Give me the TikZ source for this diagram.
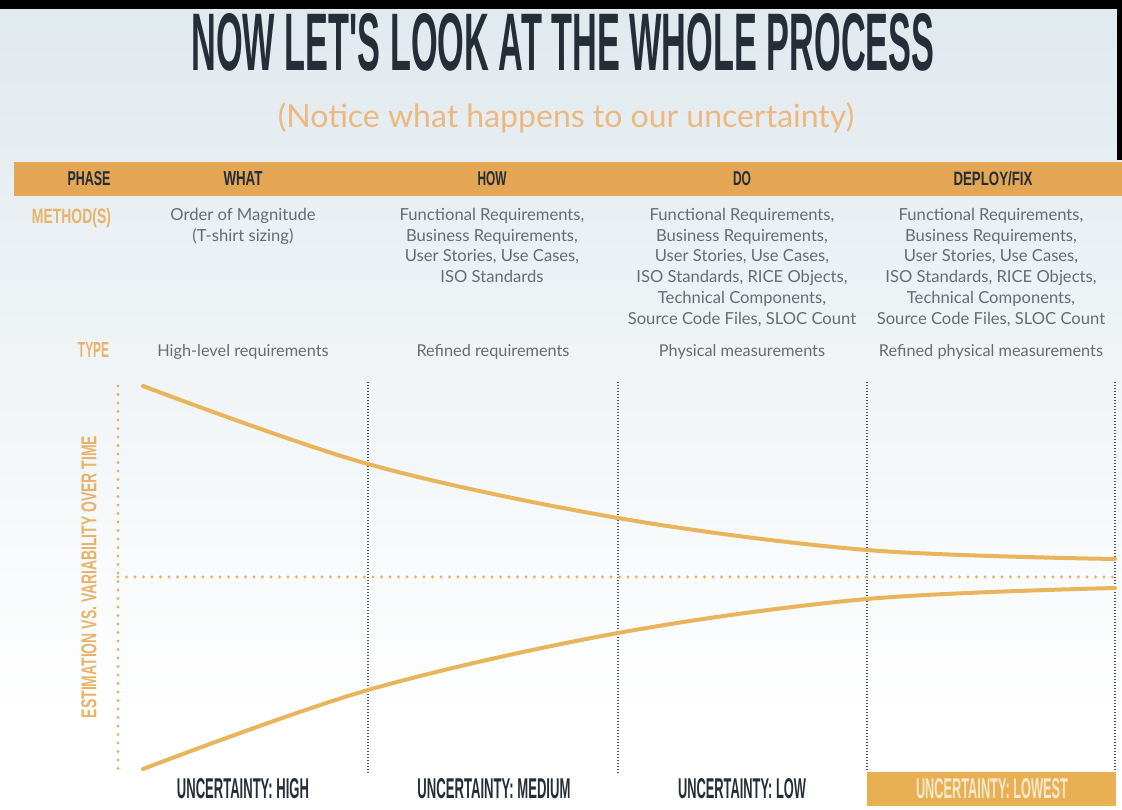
\documentclass[tikz,border=0pt]{standalone}
\usepackage{fontspec}
\setmainfont{Lato}
\newfontfamily\headfont{Liberation Sans}[BoldFont={* Bold}]
\usepackage{graphicx}

\definecolor{bgtop}{RGB}{224,233,238}
\definecolor{barorange}{RGB}{227,166,84}
\definecolor{curveorange}{RGB}{233,181,92}
\definecolor{labelorange}{RGB}{232,178,104}
\definecolor{subtitleorange}{RGB}{236,184,128}
\definecolor{navy}{RGB}{37,45,56}
\definecolor{bodygray}{RGB}{104,108,112}
\definecolor{dotgray}{RGB}{80,85,92}
\definecolor{boxorange}{RGB}{232,176,83}
\definecolor{boxtext}{RGB}{247,233,206}

% condensed bold caption: width, cap height, text
\newcommand{\cnd}[3]{\resizebox{#1pt}{#2pt}{\headfont\bfseries #3}}

\begin{document}
\begin{tikzpicture}[x=1pt,y=-1pt,
  every node/.style={inner sep=0pt,outer sep=0pt},
  bodytext/.style={font=\fontsize{16.6}{20.8}\selectfont,text=bodygray,align=center,anchor=north},
  typetext/.style={font=\fontsize{16.3}{20}\selectfont,text=bodygray,anchor=base},
  headtext/.style={text=navy,anchor=base},
  sidelabel/.style={text=labelorange,anchor=base east},
  bottomlabel/.style={text=navy,anchor=center},
  phaseline/.style={draw=dotgray,line width=1.3pt,dash pattern=on 1pt off 2pt},
  axisdots/.style={draw=labelorange,line width=3.4pt,line cap=round,dash pattern=on 0pt off 8.5pt},
  conecurve/.style={draw=curveorange,line width=4pt,line cap=round}]

  % page and background
  \useasboundingbox (0,0) rectangle (1122,810);
  \fill[white] (0,0) rectangle (1122,810);
  \shade[top color=bgtop,bottom color=white] (0,0) rectangle (1122,720);
  \fill[black] (0,0) rectangle (1122,9);
  \fill[black] (1117,0) rectangle (1122,160);

  % title and subtitle
  \node[headtext] (title) at (563,71) {\cnd{743}{57}{NOW LET'S LOOK AT THE WHOLE PROCESS}};
  \node[anchor=base,text=subtitleorange,font=\fontsize{32}{34}\selectfont] (subtitle) at (566,128) {(Notice what happens to our uncertainty)};

  % phase bar
  \fill[barorange] (14,162) rectangle (1122,196);
  \node[headtext] (hphase)  at (89,186)  {\cnd{43}{14}{PHASE}};
  \node[headtext] (hwhat)   at (243,186) {\cnd{39}{14}{WHAT}};
  \node[headtext] (hhow)    at (492,186) {\cnd{29}{14}{HOW}};
  \node[headtext] (hdo)     at (742,186) {\cnd{18}{14}{DO}};
  \node[headtext] (hdeploy) at (993,186) {\cnd{79}{14}{DEPLOY/FIX}};

  % methods row
  \node[sidelabel] (lmethod) at (111,224) {\cnd{79}{15}{METHOD(S)}};
  \node[bodytext] (m1) at (243,208) {Order of Magnitude\\(T-shirt sizing)};
  \node[bodytext] (m2) at (492,208) {Functional Requirements,\\Business Requirements,\\User Stories, Use Cases,\\ISO Standards};
  \node[bodytext] (m3) at (742,208) {Functional Requirements,\\Business Requirements,\\User Stories, Use Cases,\\ISO Standards, RICE Objects,\\Technical Components,\\Source Code Files, SLOC Count};
  \node[bodytext] (m4) at (991,208) {Functional Requirements,\\Business Requirements,\\User Stories, Use Cases,\\ISO Standards, RICE Objects,\\Technical Components,\\Source Code Files, SLOC Count};

  % type row
  \node[sidelabel] (ltype) at (109,358) {\cnd{31}{15}{TYPE}};
  \node[typetext] (t1) at (243,356) {High-level requirements};
  \node[typetext] (t2) at (493,356) {Refined requirements};
  \node[typetext] (t3) at (742,356) {Physical measurements};
  \node[typetext] (t4) at (991,356) {Refined physical measurements};

  % phase boundaries
  \draw[phaseline] (368,382) -- (368,774);
  \draw[phaseline] (618,382) -- (618,774);
  \draw[phaseline] (867,382) -- (867,772);
  \draw[phaseline] (1115,382) -- (1115,772);

  % axes
  \draw[axisdots] (118,386) -- (118,770);
  \draw[axisdots] (118,577) -- (1118,577);
  \node[text=labelorange,rotate=90] (ylabel) at (89,577) {\cnd{282}{15}{ESTIMATION VS. VARIABILITY OVER TIME}};

  % cone of uncertainty
  \draw[conecurve] plot[smooth,tension=0.55] coordinates {(143,386) (368,464) (618,518) (867,550) (1115,559)};
  \draw[conecurve] plot[smooth,tension=0.55] coordinates {(143,769) (368,690) (618,633) (867,599) (1115,588)};

  % uncertainty levels
  \node[bottomlabel] (uhigh) at (243,789) {\cnd{132}{20}{UNCERTAINTY: HIGH}};
  \node[bottomlabel] (umed)  at (494,789) {\cnd{153}{20}{UNCERTAINTY: MEDIUM}};
  \node[bottomlabel] (ulow)  at (742,789) {\cnd{128}{20}{UNCERTAINTY: LOW}};
  \fill[boxorange] (867,772) rectangle (1116,806);
  \node[bottomlabel,text=boxtext] (ulowest) at (992,789) {\cnd{152}{20}{UNCERTAINTY: LOWEST}};
\end{tikzpicture}
\end{document}
